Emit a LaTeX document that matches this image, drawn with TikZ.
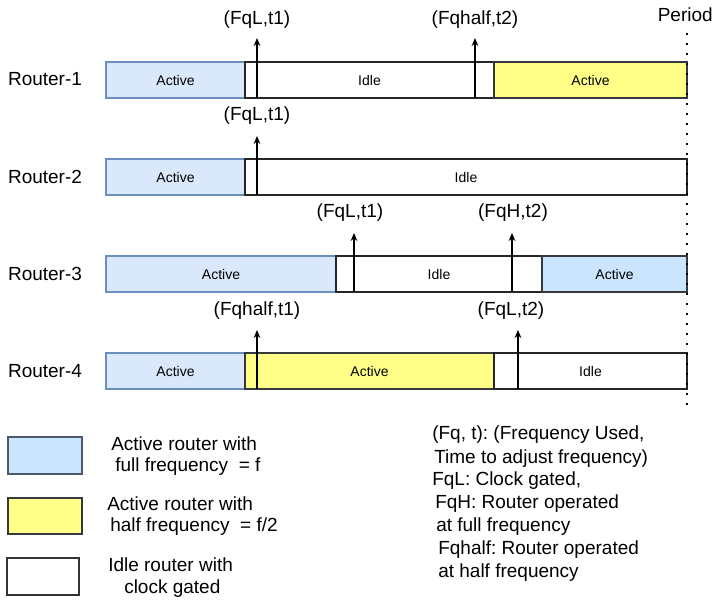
\documentclass[tikz,border=0pt]{standalone}
\usepackage{fontspec}
\setmainfont{Liberation Sans}
\usetikzlibrary{arrows.meta,fit}
\frenchspacing
\definecolor{bluefill}{HTML}{DAE8FC}
\definecolor{bluedraw}{HTML}{6C8EBF}
\definecolor{bluetwo}{HTML}{CCE5FF}
\definecolor{yel}{HTML}{FFFF88}
\definecolor{gr}{HTML}{36393D}
\definecolor{legdraw}{HTML}{4D5A6B}
\begin{document}
\begin{tikzpicture}[x=0.75pt,y=-0.75pt,
  bar/.style={inner sep=0pt, line width=0.9pt,
    label={[font=\fontsize{10.5}{12}\selectfont, inner sep=0pt]center:#1}},
  actb/.style={bar=#1, draw=bluedraw, fill=bluefill},
  acttwo/.style={bar=#1, draw=gr, fill=bluetwo},
  halfb/.style={bar=#1, draw=gr, fill=yel},
  idleb/.style={bar=#1, draw=black!85, fill=white},
  big/.style={font=\fontsize{14.25}{17}\selectfont, inner sep=0pt},
  arr/.style={line width=0.9pt, -{Stealth[length=6pt,width=5pt]}},
  legtxt/.style={big, anchor=west},
  dots/.style={line width=1.5pt, dash pattern=on 1.5pt off 6pt}]
\useasboundingbox (0,0) rectangle (714,601);

% router labels
\node[big] (r1) at (45,79) {Router-1};
\node[big] (r2) at (45,177) {Router-2};
\node[big] (r3) at (45,274) {Router-3};
\node[big] (r4) at (45,371) {Router-4};

% row 1
\node[actb=Active, fit={(106,62) (245,98)}] (b1a) {};
\node[idleb=Idle, fit={(245,62) (494,98)}] (b1b) {};
\node[halfb=Active, fit={(494,62) (687,98)}] (b1c) {};
% row 2
\node[actb=Active, fit={(106,159) (245,195)}] (b2a) {};
\node[idleb=Idle, fit={(245,159) (687,195)}] (b2b) {};
% row 3
\node[actb=Active, fit={(106,256) (336,292)}] (b3a) {};
\node[idleb=Idle, fit={(336,256) (542,292)}] (b3b) {};
\node[acttwo=Active, fit={(542,256) (687,292)}] (b3c) {};
% row 4
\node[actb=Active, fit={(106,353) (245,389)}] (b4a) {};
\node[halfb=Active, fit={(245,353) (494,389)}] (b4b) {};
\node[idleb=Idle, fit={(494,353) (687,389)}] (b4c) {};

% event labels
\node[big] (e11) at (257,20) {(FqL,t1)};
\node[big] (e12) at (475,20) {(Fqhalf,t2)};
\node[big] (e21) at (257,116) {(FqL,t1)};
\node[big] (e31) at (350,213) {(FqL,t1)};
\node[big] (e32) at (513,213) {(FqH,t2)};
\node[big] (e41) at (257,311) {(Fqhalf,t1)};
\node[big] (e42) at (511,311) {(FqL,t2)};

% arrows
\coordinate (a11b) at (257,98);  \coordinate (a11t) at (257,38);
\coordinate (a12b) at (475,98);  \coordinate (a12t) at (475,38);
\coordinate (a21b) at (257,195); \coordinate (a21t) at (257,136);
\coordinate (a31b) at (354,292); \coordinate (a31t) at (354,233);
\coordinate (a32b) at (512,292); \coordinate (a32t) at (512,233);
\coordinate (a41b) at (257,389); \coordinate (a41t) at (257,330);
\coordinate (a42b) at (518,389); \coordinate (a42t) at (518,330);
\draw[arr] (a11b) -- (a11t);
\draw[arr] (a12b) -- (a12t);
\draw[arr] (a21b) -- (a21t);
\draw[arr] (a31b) -- (a31t);
\draw[arr] (a32b) -- (a32t);
\draw[arr] (a41b) -- (a41t);
\draw[arr] (a42b) -- (a42t);

% period
\node[big, anchor=east] (per) at (713,15) {Period};
\coordinate (ptop) at (687,33);
\coordinate (pbot) at (687,413);
\draw[dots] (ptop) -- (pbot);

% legend
\node[fit={(8,437) (82,474)}, inner sep=0pt, draw=legdraw, fill=bluetwo, line width=1pt] (lg1) {};
\node[fit={(8,498) (82,534)}, inner sep=0pt, draw=gr, fill=yel, line width=1pt] (lg2) {};
\node[fit={(7,558) (79,595)}, inner sep=0pt, draw=black!80, fill=white, line width=1pt] (lg3) {};
\node[legtxt] (t1a) at (111,444) {Active router with};
\node[legtxt] (t1b) at (115,467) {full frequency~ = f};
\node[legtxt] (t2a) at (107,504) {Active router with};
\node[legtxt] (t2b) at (110,527) {half frequency~ = f/2};
\node[legtxt] (t3a) at (108,565) {Idle router with};
\node[legtxt] (t3b) at (124,589) {clock gated};

% notes
\node[legtxt] (n1) at (432,435) {(Fq, t): (Frequency Used,};
\node[legtxt] (n2) at (434,459) {Time to adjust frequency)};
\node[legtxt] (n3) at (432,481) {FqL: Clock gated,};
\node[legtxt] (n4) at (435,504) {FqH: Router operated};
\node[legtxt] (n5) at (436,527) {at full frequency};
\node[legtxt] (n6) at (438,550) {Fqhalf: Router operated};
\node[legtxt] (n7) at (438,573) {at half frequency};
\end{tikzpicture}
\end{document}
